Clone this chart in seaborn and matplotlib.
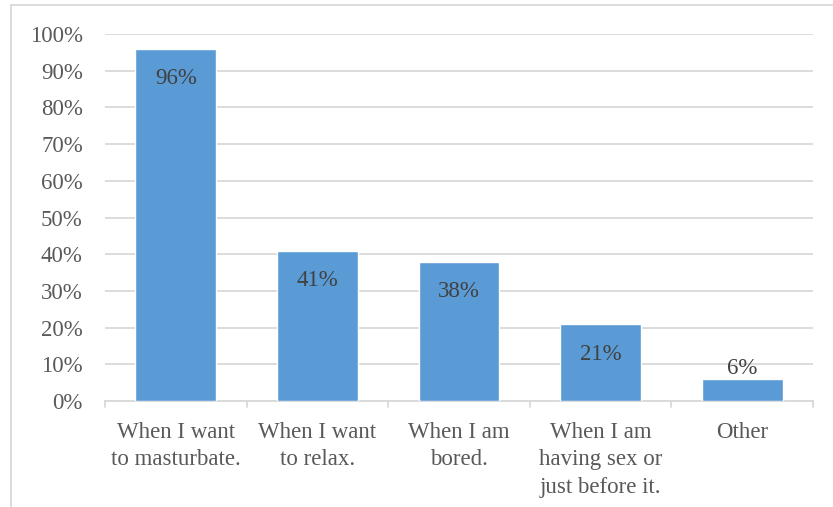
import matplotlib
matplotlib.use("Agg")
import matplotlib.pyplot as plt
from matplotlib.lines import Line2D
import seaborn as sns
import pandas as pd
import numpy as np

categories = [
    "When I want\nto masturbate.",
    "When I want\nto relax.",
    "When I am\nbored.",
    "When I am\nhaving sex or\njust before it.",
    "Other",
]
shares = [96, 41, 38, 21, 6]
y_ticks = [0, 10, 20, 30, 40, 50, 60, 70, 80, 90, 100]

df = pd.DataFrame({"category": categories, "share": shares})

sns.set_theme(style="white")
plt.rcParams["font.family"] = ["Liberation Serif", "DejaVu Serif"]

text_color = "#595959"
grid_color = "#D9D9D9"
bar_color = "#5B9BD5"
fs = 16.5

fig = plt.figure(figsize=(8.33, 5.07), dpi=100)
ax = fig.add_axes([105 / 833, 1 - 401 / 507, (813 - 105) / 833, (401 - 34) / 507])

sns.barplot(data=df, x="category", y="share", color=bar_color, width=0.57,
            saturation=1, ax=ax, zorder=3)

ax.set_ylim(0, 100)
ax.set_xlim(-0.5, len(categories) - 0.5)
ax.set_yticks(y_ticks)
ax.set_yticklabels([f"{v}%" for v in y_ticks])
ax.yaxis.grid(True, color=grid_color, linewidth=1.3, zorder=0)
ax.set_axisbelow(True)
for s in ["top", "right", "left"]:
    ax.spines[s].set_visible(False)
ax.spines["bottom"].set_color(grid_color)
ax.spines["bottom"].set_linewidth(1.3)
ax.set_xlabel("")
ax.set_ylabel("")

ax.tick_params(axis="y", length=0, pad=16, labelsize=fs, labelcolor=text_color)
ax.tick_params(axis="x", length=0, pad=15, labelsize=fs, labelcolor=text_color)
for lbl in ax.get_xticklabels():
    lbl.set_linespacing(1.4)

# category separator ticks below the axis
for b in np.arange(-0.5, len(categories), 1.0):
    ax.add_line(Line2D([b, b], [0, -1.7], color=grid_color, linewidth=1.3,
                       clip_on=False, transform=ax.transData))

# value labels
for i, v in enumerate(shares):
    if v > 15:
        ax.text(i, v - 8.2, f"{v}%", ha="center", va="center",
                fontsize=fs, color="#404040", zorder=4)
    else:
        ax.text(i, v + 2.9, f"{v}%", ha="center", va="center",
                fontsize=fs, color="#404040", zorder=4)

# chart frame
fig.add_artist(Line2D([11 / 833, 1], [1 - 5 / 507, 1 - 5 / 507],
                      color=grid_color, linewidth=1.3, transform=fig.transFigure))
fig.add_artist(Line2D([11 / 833, 11 / 833], [0, 1 - 5 / 507],
                      color=grid_color, linewidth=1.3, transform=fig.transFigure))

fig.savefig("out.png", dpi=100)
